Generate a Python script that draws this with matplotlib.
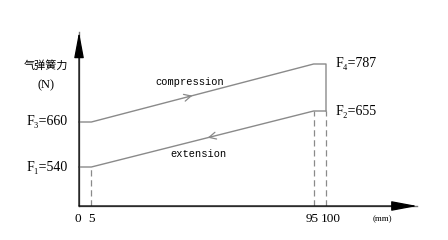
import matplotlib
matplotlib.use('Agg')
import matplotlib.pyplot as plt

# schematic chart: x = stroke (mm), y = schematic height of each force level
stroke = [0, 5, 95, 100]
h_F1, h_F3, h_F2, h_F4 = 39, 84, 95, 142
force_labels = ['F\u2081=540', 'F\u2083=660', 'F\u2082=655', 'F\u2084=787']

comp_x = [0, 5, 95, 100, 100]
comp_y = [h_F3, h_F3, h_F4, h_F4, h_F2]
ext_x = [100, 95, 5, 0]
ext_y = [h_F2, h_F2, h_F1, h_F1]

tick_labels = ['0', '5', '95', '100']

serif = ['Liberation Serif', 'DejaVu Serif']
line_c = '#8a8a8a'

fig = plt.figure(figsize=(4.48, 2.4), dpi=100)
ax = fig.add_axes([0, 0, 1, 1])
ax.set_xlim(-32, 149.4)
ax.set_ylim(-34, 206)
ax.axis('off')

# axes with arrows
ax.annotate('', xy=(137, 0), xytext=(0, 0),
            arrowprops=dict(arrowstyle='-|>,head_length=1.6,head_width=0.3', color='black', lw=0.9,
                            shrinkA=0, shrinkB=0))
ax.annotate('', xy=(0, 174), xytext=(0, 0),
            arrowprops=dict(arrowstyle='-|>,head_length=1.6,head_width=0.3', color='black', lw=0.9,
                            shrinkA=0, shrinkB=0))
ax.plot([0, 137], [0, 0], color='#777777', lw=1)
ax.plot([0, 0], [0, 174], color='#777777', lw=1)

# force curves
ax.plot(comp_x, comp_y, color=line_c, lw=1)
ax.plot(ext_x, ext_y, color=line_c, lw=1)

# dashed guides
ax.plot([stroke[1], stroke[1]], [0, h_F1], color=line_c, lw=0.9, ls=(0, (5, 3)))
ax.plot([stroke[2], stroke[2]], [0, h_F2], color=line_c, lw=0.9, ls=(0, (5, 3)))
ax.plot([stroke[3], stroke[3]], [0, h_F2], color=line_c, lw=0.9, ls=(0, (5, 3)))

# direction arrows on lines
def on_line(x0, y0, x1, y1, x):
    return y0 + (y1 - y0) * (x - x0) / (x1 - x0)

ax.annotate('', xy=(47, on_line(5, h_F3, 95, h_F4, 47)), xytext=(43, on_line(5, h_F3, 95, h_F4, 43)),
            arrowprops=dict(arrowstyle='->,head_length=0.5,head_width=0.25', color=line_c, lw=0.9))
ax.annotate('', xy=(51, on_line(5, h_F1, 95, h_F2, 51)), xytext=(55, on_line(5, h_F1, 95, h_F2, 55)),
            arrowprops=dict(arrowstyle='->,head_length=0.5,head_width=0.25', color=line_c, lw=0.9))

ax.text(45, 124, 'compression', fontsize=7.5, family=['Liberation Mono', 'DejaVu Sans Mono'],
        ha='center', va='center')
ax.text(48.5, 52, 'extension', fontsize=7.5, family=['Liberation Mono', 'DejaVu Sans Mono'],
        ha='center', va='center')

# force labels
ax.text(-4.5, h_F1, force_labels[0], fontsize=10, family=serif, ha='right', va='center')
ax.text(-4.5, h_F3, force_labels[1], fontsize=10, family=serif, ha='right', va='center')
ax.text(104, h_F2, force_labels[2], fontsize=10, family=serif, ha='left', va='center')
ax.text(104, h_F4, force_labels[3], fontsize=10, family=serif, ha='left', va='center')

# y title
ax.text(-13.5, 141, '气弹簧力', fontsize=8, family=['Noto Sans CJK SC', 'DejaVu Sans'],
        ha='center', va='center')
ax.text(-13.5, 121, '(N)', fontsize=9, family=serif, ha='center', va='center')

# tick labels
tick_x = [-0.5, 5, 94.5, 102]
for tx, tl in zip(tick_x, tick_labels):
    ax.text(tx, -13, tl, fontsize=9.5, family=serif, ha='center', va='center')
ax.text(123, -13, '(mm)', fontsize=6.5, family=serif, ha='center', va='center')

fig.savefig('out.png', dpi=100)
